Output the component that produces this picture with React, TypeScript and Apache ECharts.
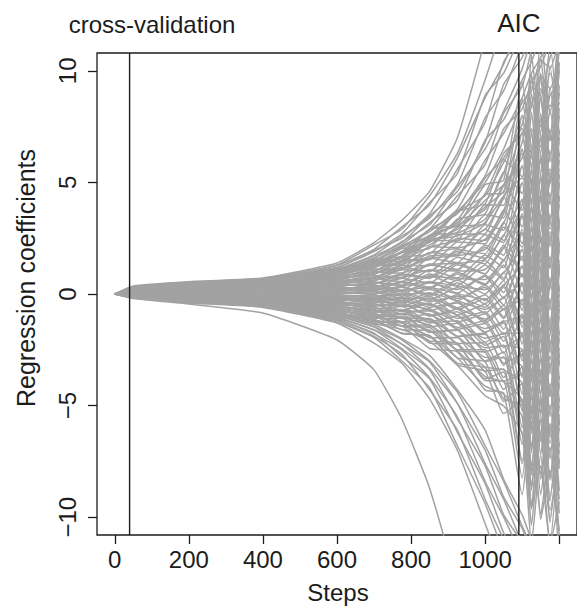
import React, { useEffect, useRef } from "react";
import * as echarts from "echarts";

const steps = [0, 50, 200, 400, 600, 700, 775, 850, 925, 1000, 1050, 1100, 1125, 1150, 1175, 1200];

// Paths that leave through the top of the panel
const upperPaths: number[][] = [
  [0, .36, .55, .72, 1.39, 2.3, 3.3, 4.6, 7.0, 11.4],
  [0, .33, .52, .7, 1.3, 2.2, 2.9, 4.4, 6.3, 9.6, 12.2],
  [0, .31, .5, .67, 1.28, 2.0, 3.0, 4.0, 6.1, 8.8, 10.3, 12.4],
  [0, .3, .49, .66, 1.2, 1.9, 2.7, 4.1, 5.4, 8.9, 9.9, 11.8],
  [0, .29, .47, .64, 1.17, 1.95, 2.5, 3.6, 5.6, 7.7, 10.4, 11.6],
  [0, .28, .46, .62, 1.12, 1.75, 2.6, 3.4, 4.9, 7.9, 9.1, 11.2],
  [0, .27, .45, .61, 1.08, 1.7, 2.3, 3.5, 4.6, 6.8, 9.4, 10.6, 11.9],
  [0, .26, .44, .59, 1.05, 1.6, 2.35, 3.1, 4.8, 6.5, 8.2, 10.1, 11.5],
  [0, .25, .42, .58, 1.0, 1.62, 2.2, 3.2, 4.2, 6.9, 7.8, 9.6, 10.4, 11.6],
  [0, .24, .41, .56, .97, 1.52, 2.1, 2.9, 4.4, 5.8, 8.1, 9.3, 10.9, 11.8],
  [0, .23, .4, .55, .94, 1.48, 2.15, 2.8, 3.8, 6.0, 7.2, 8.8, 9.9, 10.6, 11.7],
  [0, .22, .39, .53, .9, 1.4, 1.9, 2.9, 3.6, 5.3, 7.4, 8.3, 9.5, 10.2, 11.3],
  [0, .21, .38, .52, .88, 1.42, 1.85, 2.5, 3.7, 5.0, 6.5, 8.6, 9.1, 10.5, 10.1, 11.4],
  [0, .2, .37, .51, .85, 1.3, 1.9, 2.45, 3.3, 5.2, 6.1, 7.6, 9.3, 9.0, 10.6, 11.5],
  [0, .19, .36, .5, .82, 1.28, 1.7, 2.55, 3.2, 4.5, 6.3, 7.2, 8.4, 9.8, 9.2, 10.4],
];

// Paths of the dense central bundle
const centerPaths: number[][] = [
  [0, .22, .42, .55, 1.05, 1.55, 1.7, 2.9, 3.1, 4.9, 5.1, 9.5, 6.5, 11.5, 8, 12],
  [0, .21, .41, .53, 1.02, 1.3, 2.04, 2.31, 3.69, 4.05, 6.02, 5.25, 10.72, 7.2, 11.19, 7.17],
  [0, .21, .39, .51, 1.0, 1.35, 1.87, 2.63, 3.07, 3.8, 5.42, 8.0, 4.93, 9.9, 6.86, 12.33],
  [0, .2, .38, .5, .95, 1.41, 1.51, 2.64, 2.76, 4.45, 4.54, 8.75, 5.65, 10.6, 7.05, 11],
  [0, .19, .36, .48, .91, 1.16, 1.85, 2.05, 3.35, 3.6, 5.46, 4.5, 9.87, 6.3, 10.24, 6.17],
  [0, .18, .35, .46, .87, 1.21, 1.68, 2.37, 2.73, 3.35, 4.87, 7.25, 4.08, 9, 5.91, 11.33],
  [0, .18, .34, .44, .84, 1.26, 1.32, 2.38, 2.42, 4, 3.98, 8, 4.8, 9.7, 6.1, 10],
  [0, .17, .32, .42, .81, 1.01, 1.66, 1.79, 3.01, 3.15, 4.89, 3.75, 9.02, 5.4, 9.29, 5.17],
  [0, .16, .31, .4, .77, 1.06, 1.49, 2.11, 2.39, 2.9, 4.3, 6.5, 3.23, 8.1, 4.96, 10.33],
  [0, .15, .29, .39, .74, 1.12, 1.13, 2.12, 2.08, 3.55, 3.42, 7.25, 3.95, 8.8, 5.15, 9],
  [0, .15, .28, .37, .7, .87, 1.47, 1.53, 2.67, 2.7, 4.34, 3, 8.17, 4.5, 8.34, 4.17],
  [0, .14, .27, .35, .66, .92, 1.3, 1.85, 2.05, 2.45, 3.74, 5.75, 2.38, 7.2, 4.01, 9.33],
  [0, .13, .25, .33, .63, .97, .94, 1.86, 1.74, 3.1, 2.86, 6.5, 3.1, 7.9, 4.2, 8],
  [0, .12, .24, .31, .6, .72, 1.28, 1.27, 2.33, 2.25, 3.78, 2.25, 7.32, 3.6, 7.39, 3.17],
  [0, .12, .22, .29, .56, .77, 1.11, 1.59, 1.71, 2, 3.18, 5, 1.53, 6.3, 3.06, 8.33],
  [0, .11, .21, .28, .53, .83, .75, 1.6, 1.4, 2.65, 2.3, 5.75, 2.25, 7, 3.25, 7],
  [0, .1, .2, .26, .49, .58, 1.09, 1.01, 1.99, 1.8, 3.22, 1.5, 6.47, 2.7, 6.44, 2.17],
  [0, .1, .18, .24, .45, .63, .92, 1.33, 1.37, 1.55, 2.62, 4.25, .68, 5.4, 2.11, 7.33],
  [0, .09, .17, .22, .42, .68, .56, 1.34, 1.06, 2.2, 1.74, 5, 1.4, 6.1, 2.3, 6],
  [0, .08, .15, .2, .39, .43, .9, .75, 1.65, 1.35, 2.66, .75, 5.62, 1.8, 5.49, 1.17],
  [0, .07, .14, .18, .35, .48, .73, 1.07, 1.03, 1.1, 2.07, 3.5, -.17, 4.5, 1.16, 6.33],
  [0, .07, .13, .17, .32, .54, .37, 1.08, .72, 1.75, 1.18, 4.25, .55, 5.2, 1.35, 5],
  [0, .06, .11, .15, .28, .29, .71, .49, 1.31, .9, 2.1, 0, 4.77, .9, 4.54, .17],
  [0, .05, .1, .13, .24, .34, .54, .81, .69, .65, 1.5, 2.75, -1.02, 3.6, .21, 5.33],
  [0, .04, .08, .11, .21, .39, .18, .82, .38, 1.3, .62, 3.5, -.3, 4.3, .4, 4],
  [0, .04, .07, .09, .18, .14, .52, .23, .97, .45, 1.54, -.75, 3.92, 0, 3.59, -.83],
  [0, .03, .06, .07, .14, .19, .35, .55, .35, .2, .95, 2, -1.87, 2.7, -.74, 4.33],
  [0, .02, .04, .06, .11, .25, -.01, .56, .04, .85, .06, 2.75, -1.15, 3.4, -.55, 3],
  [0, .01, .03, .04, .07, 0, .33, -.03, .63, 0, .97, -1.5, 3.07, -.9, 2.63, -1.83],
  [0, .01, .01, .02, .03, .05, .16, .29, .01, -.25, .39, 1.25, -2.72, 1.8, -1.68, 3.33],
  [0, 0, -.01, .01, .02, .1, -.2, .3, -.3, .4, -.5, 2, -2, 2.5, -1.5, 2],
  [0, -.01, -.01, -.02, -.03, -.14, .14, -.28, .29, -.44, .42, -2.25, 2.22, -1.8, 1.68, -2.83],
  [0, -.01, -.02, -.03, -.06, -.09, -.02, .04, -.31, -.69, -.16, .5, -3.57, .9, -2.64, 2.33],
  [0, -.02, -.04, -.05, -.1, -.04, -.38, .06, -.62, -.03, -1.04, 1.25, -2.85, 1.6, -2.45, 1],
  [0, -.02, -.05, -.07, -.13, -.28, -.03, -.52, -.03, -.87, -.12, -3, 1.37, -2.7, .74, -3.83],
  [0, -.03, -.06, -.08, -.16, -.23, -.19, -.2, -.63, -1.12, -.7, -.25, -4.42, 0, -3.59, 1.33],
  [0, -.03, -.07, -.1, -.19, -.17, -.55, -.18, -.94, -.46, -1.58, .5, -3.7, .7, -3.4, 0],
  [0, -.04, -.08, -.12, -.22, -.41, -.21, -.76, -.35, -1.3, -.66, -3.75, .52, -3.6, -.21, -4.83],
  [0, -.04, -.1, -.13, -.25, -.36, -.37, -.44, -.95, -1.55, -1.24, -1, -5.27, -.9, -4.54, .33],
  [0, -.05, -.11, -.15, -.29, -.31, -.73, -.42, -1.26, -.89, -2.12, -.25, -4.55, -.2, -4.35, -1],
  [0, -.05, -.12, -.17, -.32, -.55, -.38, -1, -.67, -1.73, -1.2, -4.5, -.33, -4.5, -1.16, -5.83],
  [0, -.06, -.13, -.18, -.35, -.5, -.54, -.68, -1.27, -1.98, -1.78, -1.75, -6.12, -1.8, -5.49, -.67],
  [0, -.06, -.14, -.2, -.38, -.44, -.9, -.66, -1.58, -1.32, -2.66, -1, -5.4, -1.1, -5.3, -2],
  [0, -.07, -.16, -.22, -.41, -.68, -.56, -1.24, -.99, -2.16, -1.74, -5.25, -1.18, -5.4, -2.11, -6.83],
  [0, -.07, -.17, -.23, -.44, -.63, -.72, -.92, -1.59, -2.41, -2.32, -2.5, -6.97, -2.7, -6.44, -1.67],
  [0, -.08, -.18, -.25, -.48, -.58, -1.08, -.9, -1.9, -1.75, -3.2, -1.75, -6.25, -2, -6.25, -3],
  [0, -.09, -.19, -.27, -.51, -.82, -.73, -1.48, -1.31, -2.59, -2.28, -6, -2.03, -6.3, -3.06, -7.83],
  [0, -.09, -.2, -.28, -.54, -.77, -.89, -1.16, -1.91, -2.84, -2.86, -3.25, -7.82, -3.6, -7.39, -2.67],
  [0, -.1, -.22, -.3, -.57, -.71, -1.25, -1.14, -2.22, -2.18, -3.74, -2.5, -7.1, -2.9, -7.2, -4],
  [0, -.1, -.23, -.32, -.6, -.95, -.91, -1.72, -1.63, -3.02, -2.82, -6.75, -2.88, -7.2, -4.01, -8.83],
  [0, -.11, -.24, -.33, -.63, -.9, -1.07, -1.4, -2.23, -3.27, -3.4, -4, -8.67, -4.5, -8.34, -3.67],
  [0, -.11, -.25, -.35, -.67, -.85, -1.43, -1.38, -2.54, -2.61, -4.28, -3.25, -7.95, -3.8, -8.15, -5],
  [0, -.12, -.26, -.37, -.7, -1.09, -1.08, -1.96, -1.95, -3.45, -3.36, -7.5, -3.73, -8.1, -4.96, -9.83],
  [0, -.12, -.28, -.38, -.73, -1.04, -1.24, -1.64, -2.55, -3.7, -3.94, -4.75, -9.52, -5.4, -9.29, -4.67],
  [0, -.13, -.29, -.4, -.76, -.98, -1.6, -1.62, -2.86, -3.04, -4.82, -4, -8.8, -4.7, -9.1, -6],
  [0, -.13, -.3, -.42, -.79, -1.22, -1.26, -2.2, -2.27, -3.88, -3.9, -8.25, -4.58, -9, -5.91, -10.83],
  [0, -.14, -.31, -.43, -.82, -1.17, -1.42, -1.88, -2.87, -4.13, -4.48, -5.5, -10.37, -6.3, -10.24, -5.67],
  [0, -.14, -.32, -.45, -.86, -1.12, -1.78, -1.86, -3.18, -3.47, -5.36, -4.75, -9.65, -5.6, -10.05, -7],
  [0, -.15, -.34, -.47, -.89, -1.36, -1.43, -2.44, -2.59, -4.31, -4.44, -9, -5.43, -9.9, -6.86, -11.83],
  [0, -.15, -.35, -.48, -.92, -1.31, -1.59, -2.12, -3.19, -4.56, -5.02, -6.25, -11.22, -7.2, -11.19, -6.67],
];

// A second, less regular set of central paths
const wanderPaths: number[][] = [
  [0, .2, .37, .49, .98, 1.2, 1.9, 2.2, 3.0, 4.2, 4.9, 6.1, 7.4, 6.6, 8.9, 9.4],
  [0, .17, .33, .46, .82, 1.3, 1.4, 2.4, 2.6, 3.2, 4.4, 5.2, 4.6, 7.8, 6.9, 8.6],
  [0, .14, .29, .4, .75, .9, 1.5, 1.6, 2.5, 2.4, 3.6, 6.3, 5.1, 4.2, 7.1, 5.5],
  [0, .13, .26, .36, .62, 1.0, 1.1, 1.7, 1.8, 2.9, 2.4, 4.0, 6.2, 3.3, 5.0, 6.8],
  [0, .11, .23, .32, .55, .7, 1.2, 1.0, 1.9, 1.6, 3.0, 2.1, 4.8, 5.9, 2.9, 4.4],
  [0, .1, .2, .27, .47, .75, .7, 1.3, 1.1, 2.1, 1.5, 3.6, 1.9, 4.5, 5.6, 3.0],
  [0, .08, .17, .23, .4, .45, .85, .7, 1.4, .9, 2.2, .8, 3.9, 2.4, 1.2, 4.9],
  [0, .07, .14, .19, .33, .5, .4, .9, .6, 1.5, .7, 2.9, .2, 3.4, 4.1, 1.0],
  [0, .05, .11, .15, .26, .2, .55, .3, .9, .4, 1.3, -.5, 2.6, 1.1, -1.2, 2.2],
  [0, .04, .08, .1, .18, .3, .1, .5, .2, .8, -.2, 1.7, -1.4, .3, 2.8, -.6],
  [0, .02, .05, .06, .1, 0, .3, -.1, .5, -.3, .6, -1.9, 1.2, -2.6, .4, 1.5],
  [0, .01, .02, .03, .04, .15, -.1, .2, -.2, .3, -.7, .9, -.8, 2.1, -2.2, -.3],
  [0, -.01, -.02, -.03, -.05, -.2, .05, -.35, -.1, -.6, .3, -1.3, 1.6, -.9, -2.9, 1.1],
  [0, -.02, -.05, -.06, -.12, -.05, -.3, -.1, -.7, -.2, -1.1, .4, -2.4, -.4, 1.3, -3.2],
  [0, -.04, -.08, -.1, -.2, -.35, -.15, -.6, -.4, -1.2, -.5, -2.8, -.6, -3.7, -1.8, .2],
  [0, -.05, -.11, -.14, -.28, -.25, -.55, -.45, -1.1, -.8, -1.8, -.9, -3.9, -1.5, -4.6, -2.4],
  [0, -.06, -.14, -.18, -.36, -.5, -.45, -.95, -.8, -1.7, -1.3, -3.6, -2.2, -5.3, -2.8, -5.9],
  [0, -.07, -.17, -.22, -.44, -.45, -.8, -.75, -1.5, -1.2, -2.4, -1.9, -5.5, -3.4, -6.7, -4.1],
  [0, -.08, -.2, -.27, -.52, -.75, -.7, -1.3, -1.2, -2.3, -1.9, -4.9, -3.0, -6.6, -4.3, -7.6],
  [0, -.1, -.23, -.31, -.6, -.7, -1.1, -1.1, -1.9, -1.8, -3.1, -2.7, -6.8, -4.9, -8.2, -5.4],
  [0, -.11, -.26, -.35, -.68, -1.0, -1.0, -1.7, -1.6, -3.0, -2.6, -6.3, -4.4, -8.3, -5.8, -9.2],
  [0, -.13, -.29, -.4, -.77, -.95, -1.45, -1.5, -2.5, -2.5, -3.9, -3.6, -8.1, -6.2, -9.7, -7.4],
  [0, -.14, -.32, -.44, -.85, -1.25, -1.3, -2.1, -2.2, -3.8, -3.5, -7.6, -5.7, -10.1, -7.9, -10.6],
  [0, -.16, -.36, -.5, -.95, -1.2, -1.75, -1.9, -3.1, -3.3, -4.7, -5.0, -9.6, -7.7, -11.2, -9.3],
  [0, .22, .44, .6, 1.1, 1.45, 2.1, 2.6, 3.7, 4.4, 5.9, 7.4, 6.3, 9.2, 8.4, 10.1],
  [0, .19, .4, .52, .93, 1.35, 1.6, 2.35, 2.9, 3.9, 4.6, 6.8, 8.6, 7.5, 9.9, 8.9],
];

// Paths that leave through the bottom before the AIC line
const lowerPaths: number[][] = [
  [0, -.18, -.4, -.6, -1.3, -2.2, -3.1, -4.7, -7.0, -10.3, -12.5],
  [0, -.17, -.39, -.57, -1.26, -1.95, -3.0, -4.2, -6.8, -9.4, -11.6],
  [0, -.16, -.37, -.55, -1.2, -1.9, -2.7, -4.3, -6.1, -9.2, -11.0],
  [0, -.15, -.36, -.54, -1.16, -1.75, -2.8, -3.8, -6.2, -8.5, -10.7, -12.1],
  [0, -.14, -.35, -.52, -1.12, -1.8, -2.5, -3.75, -5.5, -8.4, -10.0, -11.8],
  [0, -.13, -.34, -.5, -1.08, -1.62, -2.45, -3.4, -5.6, -7.7, -9.9, -11.1],
  [0, -.13, -.33, -.49, -1.04, -1.6, -2.25, -3.35, -4.9, -7.6, -9.2, -11.2],
  [0, -.12, -.32, -.48, -1.0, -1.48, -2.25, -3.05, -4.9, -7.0, -9.1, -10.5, -11.6],
  [0, -.12, -.31, -.46, -.96, -1.46, -2.05, -3.0, -4.4, -6.8, -8.4, -10.4, -11.3],
  [0, -.11, -.3, -.45, -.92, -1.38, -2.0, -2.75, -4.3, -6.1, -8.3, -9.9, -11.0, -11.7],
];

// The single path that drops first
const outlierPath = [0, -.2, -.45, -.85, -2.06, -3.4, -5.6, -8.7, -13];

const xTickValues = [0, 200, 400, 600, 800, 1000, 1200];
const xLabelValues = [0, 200, 400, 600, 800, 1000];
const yTickValues = [-10, -5, 0, 5, 10];
const xRange = [-48, 1248];
const yRange = [-10.8, 10.8];
const cvStep = 40;
const aicStep = 1091;

const FONT = "'Liberation Sans', Arial, Helvetica, sans-serif";
const INK = "#1c1c1c";
const PATH_GRAY = "#a2a2a2";

export default function App() {
  const ref = useRef<HTMLDivElement>(null);

  useEffect(() => {
    if (!ref.current) return;
    const chart = echarts.init(ref.current, null, { renderer: "svg" });

    const allPaths = [...upperPaths, ...centerPaths, ...wanderPaths, ...lowerPaths, outlierPath];
    const pathSeries = allPaths.map((vals) => ({
      type: "line",
      data: vals.map((v, i) => [steps[i], v]),
      symbol: "none",
      showSymbol: false,
      silent: true,
      smooth: 0.15,
      lineStyle: { color: PATH_GRAY, width: 1.5 },
      z: 2,
    }));
    const vline = (s: number) => ({
      type: "line",
      data: [
        [s, yRange[0]],
        [s, yRange[1]],
      ],
      symbol: "none",
      showSymbol: false,
      silent: true,
      lineStyle: { color: INK, width: 1.4 },
      z: 5,
    });

    chart.setOption({
      animation: false,
      backgroundColor: "#ffffff",
      grid: {
        left: 97,
        top: 53,
        right: -2,
        bottom: 74,
        show: true,
        borderColor: INK,
        borderWidth: 1.3,
        backgroundColor: "transparent",
      },
      xAxis: {
        type: "value",
        min: xRange[0],
        max: xRange[1],
        axisLine: { show: false, onZero: false },
        splitLine: { show: false },
        axisTick: {
          show: true,
          inside: false,
          length: 9,
          customValues: xTickValues,
          lineStyle: { color: INK, width: 1.3 },
        },
        axisLabel: {
          customValues: xLabelValues,
          fontSize: 24,
          fontFamily: FONT,
          color: INK,
          margin: 12,
          formatter: (v: number) => String(v),
        },
      },
      yAxis: {
        type: "value",
        min: yRange[0],
        max: yRange[1],
        axisLine: { show: false, onZero: false },
        splitLine: { show: false },
        axisTick: {
          show: true,
          inside: false,
          length: 9,
          customValues: yTickValues,
          lineStyle: { color: INK, width: 1.3 },
        },
        axisLabel: {
          customValues: yTickValues,
          rotate: 90,
          fontSize: 24,
          fontFamily: FONT,
          color: INK,
          margin: 18,
          formatter: (v: number) => String(v).replace("-", "\u2212"),
        },
      },
      series: [...pathSeries, vline(cvStep), vline(aicStep)],
    });

    const aicX = chart.convertToPixel({ gridIndex: 0 }, [aicStep, 0])[0];

    chart.setOption({
      graphic: [
        {
          type: "text",
          x: 152,
          y: 24,
          style: {
            text: "cross-validation",
            fontSize: 24,
            fontFamily: FONT,
            fill: INK,
            align: "center",
            verticalAlign: "middle",
          },
        },
        {
          type: "text",
          x: aicX,
          y: 23,
          style: {
            text: "AIC",
            fontSize: 26,
            fontFamily: FONT,
            fill: INK,
            align: "center",
            verticalAlign: "middle",
          },
        },
        {
          type: "text",
          x: 26,
          y: 278,
          rotation: Math.PI / 2,
          style: {
            text: "Regression coefficients",
            fontSize: 25,
            fontFamily: FONT,
            fill: INK,
            align: "center",
            verticalAlign: "middle",
          },
        },
        {
          type: "text",
          x: 338,
          y: 592,
          style: {
            text: "Steps",
            fontSize: 24,
            fontFamily: FONT,
            fill: INK,
            align: "center",
            verticalAlign: "middle",
          },
        },
      ],
    });

    return () => chart.dispose();
  }, []);

  return (
    <div
      ref={ref}
      style={{ position: "fixed", left: 0, top: 0, width: 577, height: 609, background: "#fff" }}
    />
  );
}
